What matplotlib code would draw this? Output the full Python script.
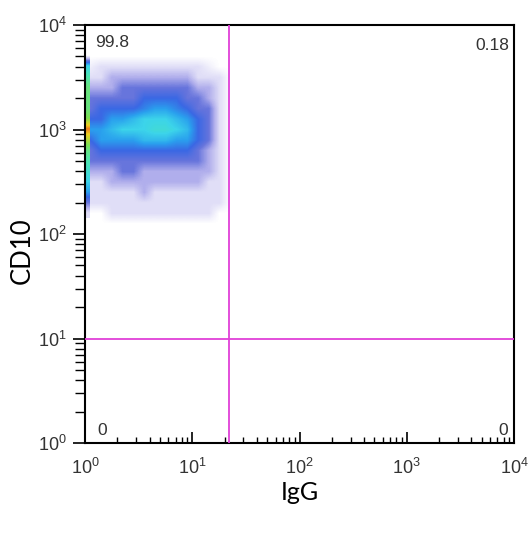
import numpy as np
import matplotlib
matplotlib.use("Agg")
import matplotlib.pyplot as plt
from matplotlib.colors import LinearSegmentedColormap

plt.rcParams["font.family"] = ["Liberation Sans", "DejaVu Sans"]
plt.rcParams["mathtext.default"] = "regular"

# ---- data (log10 coordinates of density grid nodes, density levels 0-10) ----
x_nodes_log = [0.05, 0.15, 0.25, 0.35, 0.45, 0.55, 0.65, 0.75, 0.85, 0.95, 1.05, 1.15, 1.25, 1.35]
y_nodes_log = [2.1, 2.2, 2.3, 2.4, 2.5, 2.6, 2.7, 2.8, 2.9, 3.0, 3.1, 3.2, 3.3, 3.4, 3.5, 3.6, 3.7]
density = [
    [0, 0, 0, 0, 0, 0, 0, 0, 0, 0, 0, 0, 0, 0],  # 2.1
    [0, 0, 1, 1, 1, 1, 1, 1, 1, 1, 1, 1, 0, 0],  # 2.2
    [1, 1, 1, 1, 1, 1, 1, 1, 1, 1, 1, 1, 1, 0],  # 2.3
    [1, 1, 1, 1, 1, 2, 1, 1, 1, 1, 1, 1, 1, 0],  # 2.4
    [1, 1, 2, 2, 2, 2, 2, 2, 2, 2, 2, 1, 1, 0],  # 2.5
    [2, 2, 2, 3, 3, 2, 2, 2, 2, 2, 2, 2, 1, 0],  # 2.6
    [3, 3, 3, 3, 3, 3, 3, 3, 3, 3, 3, 2, 1, 0],  # 2.7
    [3, 4, 4, 4, 4, 4, 4, 4, 4, 4, 3, 2, 1, 0],  # 2.8
    [4, 5, 5, 5, 5, 5.5, 5.5, 5.5, 5, 5, 4, 3, 1, 0],  # 2.9
    [5, 5, 5.5, 6, 6, 6, 6.3, 6.3, 6, 5.5, 4, 3, 1, 0],  # 3.0
    [4, 4, 5, 5, 5.5, 6, 6, 6, 5.5, 5, 4, 3, 1, 0],  # 3.1
    [3, 4, 4, 4, 4, 4.5, 5, 5, 4.5, 4, 3, 3, 1, 0],  # 3.2
    [3, 3, 3, 3, 3, 4, 4, 4, 4, 3, 3, 2, 1, 0],  # 3.3
    [2, 2, 2, 3, 3, 3, 3, 3, 3, 3, 2, 2, 1, 0],  # 3.4
    [1, 1, 2, 2, 2, 2, 2, 2, 2, 2, 1, 1, 1, 0],  # 3.5
    [0.5, 1, 1, 1, 1, 1, 1, 1, 1, 1, 1, 0.5, 0, 0],  # 3.6
    [0, 0, 0, 0, 0, 0, 0, 0, 0, 0, 0, 0, 0, 0],  # 3.7
]
# events piled on the left axis (IgG = 10^0)
band_y_log = [2.2, 2.3, 2.4, 2.5, 2.6, 2.7, 2.8, 2.9, 3.0, 3.1, 3.2, 3.3, 3.4, 3.5, 3.6, 3.7]
band_density = [1, 3, 5, 6, 6.5, 7, 7.5, 8.5, 9.5, 8, 7.5, 7.5, 7.5, 7, 6, 0]

gate_x = 22
gate_y = 10
quad_labels = ["99.8", "0.18", "0", "0"]

# ---- figure ----
fig = plt.figure(figsize=(5.29, 5.33), dpi=100)
pos = [85/529, 1-443/533, 429/529, 418/533]

# density layer drawn in log10 units on an overlay axes aligned with the log axes
axd = fig.add_axes(pos, zorder=0)
axd.axis("off")

cmap = LinearSegmentedColormap.from_list("flow", [
    (0.0, "#ffffff"), (0.1, "#e0def7"), (0.2, "#b0aeec"), (0.3, "#6674dc"),
    (0.4, "#3a68e4"), (0.5, "#2aa0ee"), (0.6, "#3cd4ea"), (0.7, "#4fe6b0"),
    (0.8, "#7fe050"), (0.9, "#f0d020"), (1.0, "#e83020")])

dx = 0.05
dy = 0.05
axd.imshow(np.array(density, float), origin="lower", cmap=cmap, vmin=0, vmax=10,
           interpolation="bilinear", aspect="auto",
           extent=(x_nodes_log[0] - dx, x_nodes_log[-1] + dx,
                   y_nodes_log[0] - dy, y_nodes_log[-1] + dy))
band = np.array(band_density, float)[:, None]
axd.imshow(band, origin="lower", cmap=cmap, vmin=0, vmax=10,
           interpolation="bilinear", aspect="auto",
           extent=(0.0, 0.045, band_y_log[0] - dy, band_y_log[-1] + dy))
axd.set_xlim(0, 4)
axd.set_ylim(0, 4)

ax = fig.add_axes(pos, zorder=1)
ax.patch.set_alpha(0)
ax.set_xscale("log")
ax.set_yscale("log")
ax.set_xlim(1, 1e4)
ax.set_ylim(1, 1e4)

mag = "#e040d8"
ax.axvline(gate_x, color=mag, lw=1.3, zorder=3)
ax.axhline(gate_y, color=mag, lw=1.3, zorder=3)

tkw = dict(fontsize=12.5, color="#333333")
ax.text(0.023, 0.957, quad_labels[0], transform=ax.transAxes, ha="left", va="center", **tkw)
ax.text(0.99, 0.95, quad_labels[1], transform=ax.transAxes, ha="right", va="center", **tkw)
ax.text(0.028, 0.03, quad_labels[2], transform=ax.transAxes, ha="left", va="center", **tkw)
ax.text(0.985, 0.03, quad_labels[3], transform=ax.transAxes, ha="right", va="center", **tkw)

for s in ax.spines.values():
    s.set_linewidth(1.5)
    s.set_color("black")

ax.tick_params(axis="x", which="major", direction="in", length=8, width=1.2,
               labelsize=13, labelcolor="#333333", pad=11)
ax.tick_params(axis="x", which="minor", direction="in", length=4, width=1.0)
ax.tick_params(axis="y", which="major", direction="out", length=9, width=1.2,
               labelsize=13, labelcolor="#333333", pad=4)
ax.tick_params(axis="y", which="minor", direction="out", length=7, width=1.0)

fig.text(300/529, 1-492/533, "IgG", ha="center", va="center", fontsize=18, family="Lato")
fig.text(22/529, 1-251/533, "CD10", ha="center", va="center", rotation=90, fontsize=18.5, family="Lato")

fig.savefig("out.png", dpi=100)
